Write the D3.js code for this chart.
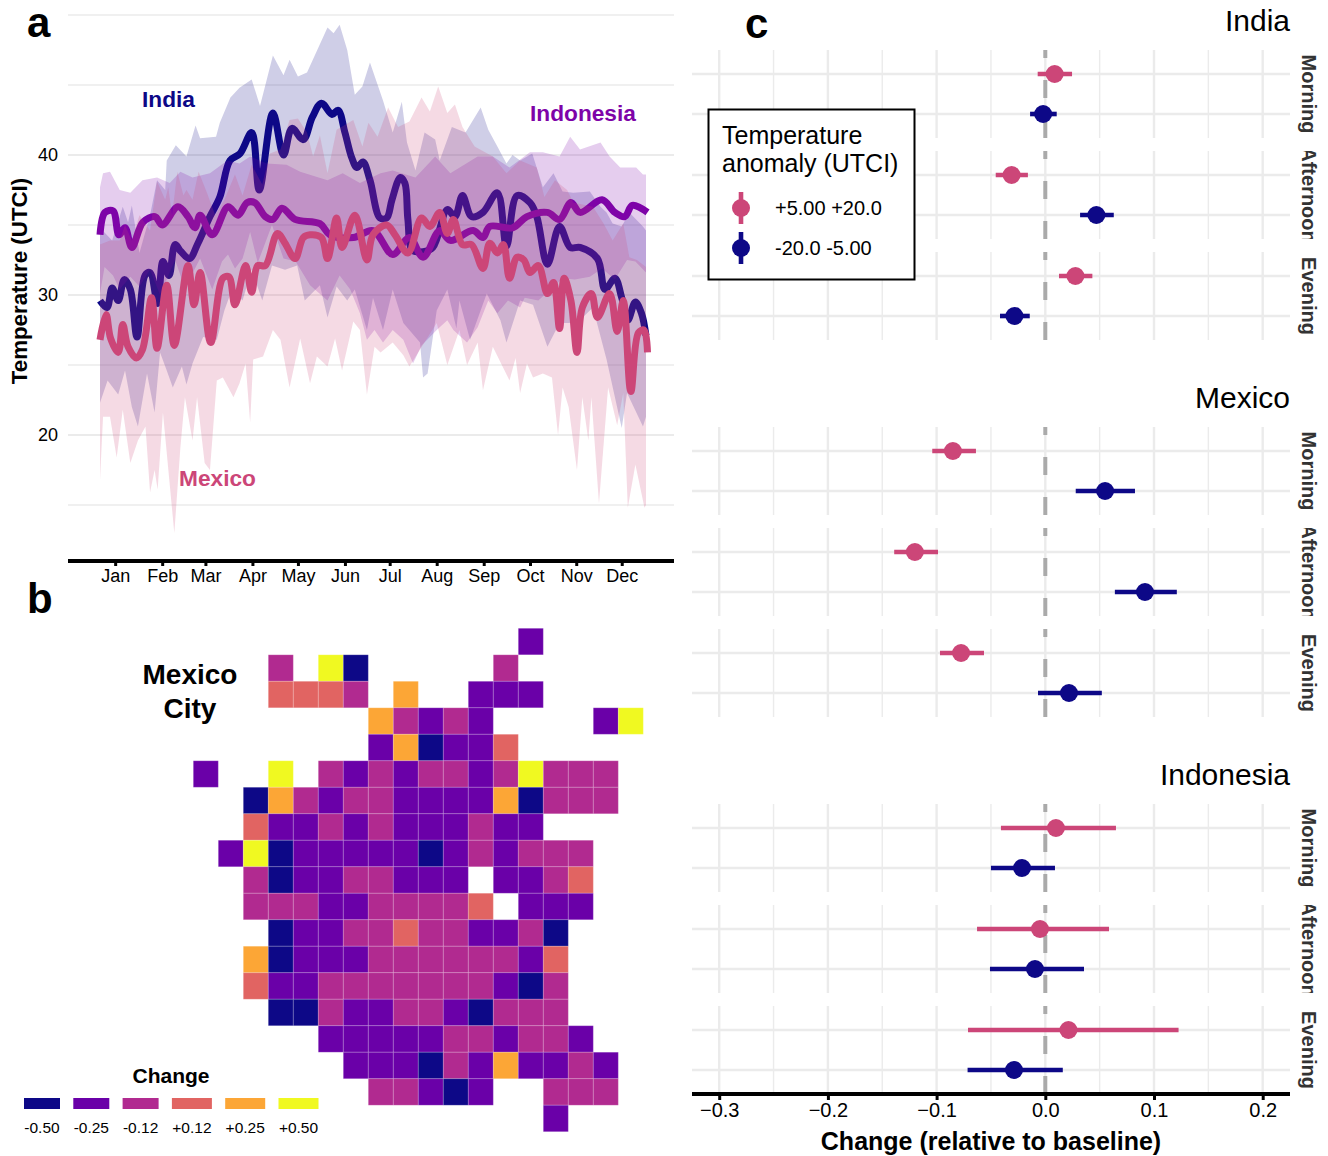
<!DOCTYPE html>
<html>
<head>
<meta charset="utf-8">
<script src="https://cdn.jsdelivr.net/npm/d3@7"></script>
<style>
    body { margin: 0; background: #fff; }
    svg { display: block; font-family: "Liberation Sans", Arial, sans-serif; }
</style>
</head>
<body>
<svg id="chart" width="1328" height="1156"></svg>
<script>
////////////
// DATA
////////////

///// Panel a, each list is [day of year, UTCI]
const monthLabels = ["Jan", "Feb", "Mar", "Apr", "May", "Jun", "Jul", "Aug", "Sep", "Oct", "Nov", "Dec"];
const monthTicks = [11, 42, 70.5, 101.5, 131.5, 162.5, 192, 223, 254, 284.5, 315, 345];
const tempTicks = [20, 30, 40];
const tempMinorTicks = [15, 25, 35, 45, 50];

const indiaMean = [[1,29.6],[5.6,29.1],[9,30.5],[13,29.6],[17,31.1],[21,30.4],[25.4,27],[30.7,31.4],[34,31.6],[39,29.4],[42.5,32.4],[46.5,31.4],[50.5,33.6],[54.4,33.1],[60,32.6],[65.6,33.7],[73.5,35.6],[80,37],[86.7,39.6],[93.3,40.1],[101,41.6],[106,37.5],[115,43],[122,40],[127.6,41.9],[135,41.1],[141,42.7],[147,43.7],[154,42.9],[158,43.2],[162.5,41.6],[167,39.8],[170.4,39.1],[174.4,39.5],[179,38.2],[185.6,35.5],[190,35.5],[193.5,36.8],[199,38.4],[202,38],[204,35.4],[207,33.2],[214,33.1],[220.5,33.4],[230,36.1],[235,35.6],[240,37.1],[246,35.6],[253.5,35.9],[263,37.3],[269,33.5],[276,37.1],[284.5,36.6],[289,35.6],[296,32.2],[304,34.9],[311,33.4],[317.5,33.4],[329,32.6],[334,30.4],[340.5,31.2],[345,29.8],[349,28.2],[354,29.5],[358,28.7],[361,27.1]];
const indiaUpper = [[1,34.8],[9,33.9],[16,36.3],[19.5,35.2],[22,36.4],[27,33],[34,35.7],[38.6,38.2],[44,37.5],[45,39.6],[51,40.7],[58,39.9],[64,42.1],[67,41.2],[77.5,41.3],[80,42.3],[87,44.1],[93,44.8],[101,45.4],[106.5,43.5],[115,47.1],[122,45.7],[126,46.8],[131.5,45.6],[137.5,45.9],[151,49.1],[155,48.7],[159,49.3],[164,47.5],[169,44.3],[174,44.9],[179,46.6],[187.6,43.9],[194,41.6],[200,43.8],[203.4,40.9],[209,38.9],[215,41.6],[222,41.1],[225,39.6],[233,42],[242,41.6],[252,43.4],[257,41.8],[263,40.6],[269,39.4],[273,40],[278,39.6],[286,40.1],[293,37.7],[300,38.7],[306,37.4],[313,37.3],[324,37.4],[331,36.3],[335,35.9],[339,35.1],[345,34.9],[350,35.9],[359,34.9],[361,34.6]];
const indiaLower = [[1,22.3],[6,23.9],[13,22.9],[17.5,24.6],[22,22],[26,20.6],[32,24.4],[37,21.6],[40.6,25.9],[45,24.6],[49,23.4],[55,24.9],[58,23.6],[62,25.1],[69,27],[78,26.8],[83,28.9],[88,30.4],[95,29.6],[101,31.8],[108,29.6],[114.4,32.1],[123,31.8],[131,32.1],[136,29.6],[146,30.7],[151,28.4],[157,30.6],[164,29.6],[169,30.4],[177,27.5],[181,29.8],[187.6,27.5],[194,30.4],[201,28],[212,26.6],[214,24.1],[217,24.4],[223,28.9],[230,30.4],[236,27.6],[238,29.6],[245,26.8],[256,30.1],[265,28.2],[269,26.6],[278,29.6],[286.5,29.3],[296,26.3],[304,28],[315.5,28],[326,29.1],[335,25.4],[345,20.5],[348.5,23],[359,20.6],[361,21.3]];

const indonesiaMean = [[1,34.3],[4.3,35.9],[9.6,36],[13.5,34.3],[17.5,34.8],[22,33.4],[29.3,35.2],[37.3,35.6],[42,35],[52.4,36.3],[59,35.6],[63.6,34.8],[67,35.7],[75,34.3],[85.4,36.3],[92,35.7],[98,36.6],[103,36.6],[110,35.6],[115,35.4],[121,36.2],[129.6,35.4],[146,35.1],[152.6,34.3],[168,34.1],[181,34.6],[194,32.9],[205,34.1],[214,32.7],[225,34.6],[232,33.9],[247,34.6],[253.5,34.1],[258,34.9],[273,34.8],[282.5,35.6],[296,35.9],[304,35.4],[311.5,36.6],[317.5,35.9],[332,36.8],[340.5,35.9],[347,35.6],[352,36.4],[362,35.9]];
const indonesiaUpper = [[1,37.7],[3,38.7],[7.6,38.8],[14,37.5],[21,37.3],[29,38.2],[38.6,38.4],[47,38],[54,38.8],[62,38.4],[73.5,38.7],[85,39.6],[93,39.4],[100,39.9],[111,39.4],[124,39.3],[133,38.8],[151,38.2],[161,38.7],[172.4,38],[186,38.7],[194,38.9],[209,38.4],[222,39.9],[232,38.7],[250,39.9],[260,39.9],[271,39.1],[284.5,40.2],[293,40.2],[304,39.9],[311,41.3],[317.5,40.4],[331,40.9],[337,39.9],[344,39.1],[354.5,39.1],[359,38.6],[361,38.6]];
const indonesiaLower = [[1,30.1],[4,32],[9.6,31.4],[14,30.4],[21,31.3],[27,30.6],[34,31.8],[40.6,30],[50.5,32.5],[57,30.5],[67,32.6],[75,30.4],[81.4,32.4],[85.4,32.9],[90,31.9],[95,32.6],[100,34.5],[105,32.3],[114.4,35],[122,32.6],[130,32.4],[139.5,30.7],[151,29.6],[159,31.4],[166,30.4],[172.4,28.7],[177,26.8],[182,27.5],[187.6,26.6],[194,27.5],[201,26.8],[207.4,25.1],[213,26.4],[223,27.5],[230,28.2],[234,27.5],[243,26.6],[250,27.7],[257,29.6],[263,28.7],[270,29.6],[278,29.1],[281,29.8],[290,29.6],[298,30.4],[306,31.2],[314,31.1],[324,31.3],[332,31.9],[340.5,31.1],[348.5,32.5],[354,32.4],[361,31.6]];

const mexicoMean = [[1,26.8],[5,28.6],[8,26.9],[13,25.9],[16,27.9],[19.5,26.3],[25,25.5],[29,26.1],[35,29.8],[38.6,26.2],[45,30.7],[50,26.4],[59,32.1],[63,29.3],[67,31.6],[74,26.6],[82,31.2],[86,31.3],[90,29.3],[97,32.1],[101,30.2],[105,32.1],[110,32.1],[118,34.4],[123,33.7],[129.6,32.6],[135,34.1],[139.5,34.3],[147,34.1],[151,32.6],[157,35.5],[160.6,33.4],[169,35.7],[177,32.5],[181,34.3],[190,35],[195.5,34.3],[204,33],[213,35.5],[218.5,34.9],[225,35.9],[230,34.4],[234,35.4],[240,33.6],[246,33.6],[253.5,31.9],[258,33.7],[263,33],[267,33.6],[271,31.2],[276,32.7],[280.5,32.5],[284.5,31.6],[290,32.1],[296,30.1],[300,30.9],[304,27.6],[307,31.2],[311.5,29.6],[315.5,25.9],[319,29.1],[325,30.1],[329,28.4],[337,30.1],[342,27.4],[346,29.6],[351,23.1],[356,27.3],[359.7,27.5],[362,25.9]];
const mexicoUpper = [[1,33.6],[7.6,33.9],[14,33.9],[17.5,35],[22,33.9],[27,35.7],[34,34.6],[38.6,38.1],[44,36.8],[46,37.7],[48.5,35.7],[52,38.8],[56,37.1],[58,37.5],[62,36.8],[66,38.8],[71.5,37.3],[77,35.7],[83,36.8],[90,38.6],[95,37.1],[101,39.3],[108,37.9],[113,40.1],[120,40.4],[126,42.5],[131.5,42.6],[137.5,41.6],[141.5,39.9],[146,41.4],[151,38.7],[157,41.8],[168,42.5],[174,40.6],[178,42.3],[184,41.3],[191,43.4],[197.5,42],[205,42.4],[213,44.1],[218.5,43.1],[224,44.9],[230,43],[235,43.6],[240,42],[248,40.6],[260,39.9],[269,38.7],[278,39.6],[289,39.1],[294,37],[301,38.2],[309,37.5],[313,36.6],[326,36.3],[333,35.1],[339,33.9],[346,35.1],[350,32.7],[355,32.5],[361,32]];
const mexicoLower = [[1,16.8],[3,21.3],[7.6,21.3],[12,18.4],[16,21.8],[21,18],[26,19.6],[31,20.6],[34,15.9],[37,17.5],[39,16.1],[42.5,21.6],[50,13],[54,19.1],[57,22.7],[62,19.6],[65,22.7],[70,18],[73.5,17.5],[78,23.9],[82,24.1],[89,22.7],[93,23.7],[97,25.1],[100,20.9],[102,25.4],[108.5,25.6],[115,27.5],[120,26.8],[126,23.4],[133,26.9],[139.5,23.7],[144,25.6],[151,24.9],[156,26.9],[160.6,24.6],[168,28.1],[172.4,27.5],[177,22.9],[182,26.3],[186,25.9],[194,26.6],[201,25.7],[205,24.9],[212,26.1],[223,28],[230,25],[238,27.5],[243,25],[250,26.6],[253.5,23.2],[260,26.3],[271,23.9],[275,25.5],[278,23],[282.5,25.1],[286.5,24.1],[293,24.4],[299,24.1],[303,20],[306,23.4],[310,22],[315.5,17.5],[319,22.7],[323,19.6],[325,22.7],[330,15.1],[336,23.4],[342,20.7],[346,23],[349,14.8],[354,17.9],[360,14.8],[361,15]];

///// Panel b, one character per cell: n -0.50, p -0.25, m -0.12, o +0.12, a +0.25, y +0.50
const changeCodes = ["n", "p", "m", "o", "a", "y"];
const changeLabels = ["-0.50", "-0.25", "-0.12", "+0.12", "+0.25", "+0.50"];
const changeColors = ["#0d0887", "#6a00a8", "#b12a90", "#e16462", "#fca636", "#f0f921"];
const cityGrid = [
    ".............p....",
    "...m.yn.....m.....",
    "...ooom.a..ppp....",
    ".......ampmp....py",
    ".......pânppo.....".replace("â", "a"),
    "p..y.mpmpmmpmymmm.",
    "..nampmmppppanmmm.",
    "..oppmpmpppmpp....",
    ".pynpppppnpmpmmm..",
    "..mnppmmppp.ppmo..",
    "..mmmppmmmmo.ppp..",
    "...nppmmommppmn...",
    "..anpppmmmmmmpo...",
    "..oppmmmmmmmpnm...",
    "...nnmppmmpnmmm...",
    ".....pppppmmpmmp..",
    "......pppnmpappmp.",
    ".......mmpnp..mmm.",
    "..............p..."
];

///// Panel c, nine rows in the order of countryNames x timeLabels
const countryNames = ["India", "Mexico", "Indonesia"];
const timeLabels = ["Morning", "Afternoon", "Evening"];
const valueTicks = [-0.3, -0.2, -0.1, 0, 0.1, 0.2];
const valueMinorTicks = [-0.25, -0.15, -0.05, 0.05, 0.15];
const anomalyTitle = ["Temperature", "anomaly (UTCI)"];
const anomalyLabels = ["+5.00 +20.0", "-20.0 -5.00"];
const hotEst = [0.0086, -0.031, 0.0277, -0.085, -0.12, -0.0775, 0.0098, -0.0049, 0.0213];
const hotLow = [-0.007, -0.0456, 0.0126, -0.104, -0.139, -0.0969, -0.0408, -0.0628, -0.0711];
const hotHigh = [0.0246, -0.016, 0.0433, -0.0638, -0.0987, -0.0564, 0.065, 0.0586, 0.1226];
const coldEst = [-0.002, 0.047, -0.0284, 0.055, 0.0917, 0.0218, -0.0214, -0.0095, -0.0288];
const coldLow = [-0.014, 0.032, -0.0417, 0.028, 0.064, -0.0067, -0.05, -0.0509, -0.0715];
const coldHigh = [0.0105, 0.063, -0.0143, 0.0825, 0.121, 0.052, 0.0089, 0.0356, 0.0161];

////////////
// SETTINGS
////////////
const navy = "#0d0887", violet = "#7e03a8", rose = "#cc4678";
const gridColor = "#ebebeb";
const svg = d3.select("#chart");

function addText(parent, x, y, str, size, opts = {}) {
    return parent.append("text")
        .attr("x", x).attr("y", y)
        .attr("font-size", size)
        .attr("font-weight", opts.weight || "normal")
        .attr("fill", opts.fill || "#000")
        .attr("text-anchor", opts.anchor || "start")
        .text(str);
}

////////////
// PANEL A
////////////
const xDay = d3.scaleLinear().domain([1, 361]).range([100, 646]);
const yTemp = d3.scaleLinear().domain([30, 40]).range([295, 155]);

const panelA = svg.append("g");

[...tempMinorTicks, ...tempTicks].forEach(t => {
    panelA.append("line")
        .attr("x1", 68).attr("x2", 674)
        .attr("y1", yTemp(t)).attr("y2", yTemp(t))
        .attr("stroke", gridColor)
        .attr("stroke-width", tempTicks.includes(t) ? 2.2 : 1.3);
});

const meanLine = d3.line()
    .x(d => xDay(d[0]))
    .y(d => yTemp(d[1]))
    .curve(d3.curveCatmullRom.alpha(0.5));
const ribbonLine = d3.line()
    .x(d => xDay(d[0]))
    .y(d => yTemp(d[1]));

// ribbon then line per country, so later ribbons tint the earlier lines
function drawSeries(upper, lower, mean, color) {
    panelA.append("path")
        .attr("d", ribbonLine([...upper, ...lower.slice().reverse()]) + "Z")
        .attr("fill", color)
        .attr("fill-opacity", 0.2);
    panelA.append("path")
        .attr("d", meanLine(mean))
        .attr("fill", "none")
        .attr("stroke", color)
        .attr("stroke-width", 7)
        .attr("stroke-linejoin", "round");
}
drawSeries(indiaUpper, indiaLower, indiaMean, navy);
drawSeries(indonesiaUpper, indonesiaLower, indonesiaMean, violet);
drawSeries(mexicoUpper, mexicoLower, mexicoMean, rose);

const xAxisA = panelA.append("g")
    .attr("transform", "translate(0,561)")
    .call(d3.axisBottom(xDay)
        .tickValues(monthTicks)
        .tickFormat((d, i) => monthLabels[i])
        .tickSize(5)
        .tickPadding(3));
xAxisA.select(".domain").remove();
xAxisA.selectAll("line").attr("stroke", "#000").attr("stroke-width", 3);
xAxisA.selectAll("text").attr("font-size", 18).attr("font-family", "inherit").attr("fill", "#000");
panelA.append("line")
    .attr("x1", 68).attr("x2", 674).attr("y1", 561).attr("y2", 561)
    .attr("stroke", "#000").attr("stroke-width", 4);

const yAxisA = panelA.append("g")
    .attr("transform", "translate(64,0)")
    .call(d3.axisLeft(yTemp).tickValues(tempTicks).tickSize(0).tickPadding(6));
yAxisA.select(".domain").remove();
yAxisA.selectAll("text").attr("font-size", 18).attr("font-family", "inherit").attr("fill", "#000");

addText(panelA, 0, 0, "Temperature (UTCI)", 22.3, { weight: "bold", anchor: "middle" })
    .attr("transform", "translate(27,281) rotate(-90)");
addText(panelA, 142, 107, "India", 22.7, { weight: "bold", fill: navy });
addText(panelA, 530, 121, "Indonesia", 22.7, { weight: "bold", fill: violet });
addText(panelA, 179, 486, "Mexico", 22.7, { weight: "bold", fill: rose });

////////////
// PANEL B
////////////
const panelB = svg.append("g");
const colScale = d3.scaleBand().domain(d3.range(18)).range([193.3, 643.3]);
const rowScale = d3.scaleBand().domain(d3.range(19)).range([628.3, 1131.7]);
const changeColor = d3.scaleOrdinal().domain(changeCodes).range(changeColors);

const cells = [];
cityGrid.forEach((row, r) => {
    row.split("").forEach((code, c) => {
        if (code !== ".") cells.push({ r, c, code });
    });
});

panelB.selectAll("rect.cell")
    .data(cells)
    .join("rect")
    .attr("class", "cell")
    .attr("x", d => colScale(d.c))
    .attr("y", d => rowScale(d.r))
    .attr("width", colScale.bandwidth())
    .attr("height", rowScale.bandwidth())
    .attr("fill", d => changeColor(d.code))
    .attr("stroke", "#fff")
    .attr("stroke-opacity", 0.18)
    .attr("stroke-width", 1);

addText(panelB, 190, 684, "Mexico", 28, { weight: "bold", anchor: "middle" });
addText(panelB, 190, 718, "City", 28, { weight: "bold", anchor: "middle" });

addText(panelB, 171, 1083, "Change", 21, { weight: "bold", anchor: "middle" });
let legendX = 24;
changeLabels.forEach((label, i) => {
    const w = label[0] === "-" ? 36 : 40;
    panelB.append("rect")
        .attr("x", legendX).attr("y", 1098)
        .attr("width", w).attr("height", 11)
        .attr("fill", changeColors[i]);
    addText(panelB, legendX + w / 2, 1133, label, 15.5, { anchor: "middle" });
    legendX += w + 13.3;
});

////////////
// PANEL C
////////////
const panelC = svg.append("g");
const xValue = d3.scaleLinear().domain([0, 0.2]).range([1045.3, 1262.7]);
const panelHeight = 88;
const rowOffset = 101;
const countryOffset = 377;
const defs = svg.append("defs");

countryNames.forEach((country, ci) => {
    const top0 = 50 + ci * countryOffset;
    addText(panelC, 1290, top0 - 19, country, 30, { anchor: "end" });

    timeLabels.forEach((time, ti) => {
        const top = top0 + ti * rowOffset;
        const idx = ci * 3 + ti;
        const yRow = d3.scalePoint().domain(["hot", "cold"]).range([top + 24, top + 64]);
        const g = panelC.append("g");

        valueMinorTicks.concat(valueTicks).forEach(v => {
            g.append("line")
                .attr("x1", xValue(v)).attr("x2", xValue(v))
                .attr("y1", top).attr("y2", top + panelHeight)
                .attr("stroke", gridColor)
                .attr("stroke-width", valueTicks.includes(v) ? 2.4 : 1.4);
        });
        yRow.domain().forEach(k => {
            g.append("line")
                .attr("x1", 692).attr("x2", 1290)
                .attr("y1", yRow(k)).attr("y2", yRow(k))
                .attr("stroke", gridColor)
                .attr("stroke-width", 2.4);
        });

        // dash pattern runs upward from the panel bottom
        g.append("line")
            .attr("x1", xValue(0)).attr("x2", xValue(0))
            .attr("y1", top + panelHeight).attr("y2", top)
            .attr("stroke", "#aaaaaa")
            .attr("stroke-width", 4)
            .attr("stroke-dasharray", "18,22");

        const rows = [
            { key: "hot", color: rose, est: hotEst[idx], low: hotLow[idx], high: hotHigh[idx] },
            { key: "cold", color: navy, est: coldEst[idx], low: coldLow[idx], high: coldHigh[idx] }
        ];
        rows.forEach(d => {
            g.append("line")
                .attr("x1", xValue(d.low)).attr("x2", xValue(d.high))
                .attr("y1", yRow(d.key)).attr("y2", yRow(d.key))
                .attr("stroke", d.color)
                .attr("stroke-width", 4.6);
            g.append("circle")
                .attr("cx", xValue(d.est))
                .attr("cy", yRow(d.key))
                .attr("r", 9)
                .attr("fill", d.color);
        });

        // strip label, long words get cut at the panel edge
        const clipId = "strip-" + ci + "-" + ti;
        defs.append("clipPath").attr("id", clipId)
            .append("rect")
            .attr("x", 1292).attr("y", top)
            .attr("width", 36).attr("height", panelHeight);
        const strip = g.append("g").attr("clip-path", "url(#" + clipId + ")");
        addText(strip, 0, 0, time, 20, { weight: "bold", fill: "#333", anchor: "middle" })
            .attr("transform", "translate(1302," + (top + panelHeight / 2) + ") rotate(90)");
    });
});

const xAxisC = panelC.append("g")
    .attr("transform", "translate(0,1094)")
    .call(d3.axisBottom(xValue)
        .tickValues(valueTicks)
        .tickFormat(d3.format(".1f"))
        .tickSize(6)
        .tickPadding(3));
xAxisC.select(".domain").remove();
xAxisC.selectAll("line").attr("stroke", "#000").attr("stroke-width", 3);
xAxisC.selectAll("text").attr("font-size", 20).attr("font-family", "inherit").attr("fill", "#000");
panelC.append("line")
    .attr("x1", 692).attr("x2", 1290).attr("y1", 1094).attr("y2", 1094)
    .attr("stroke", "#000").attr("stroke-width", 4);
addText(panelC, 991, 1150, "Change (relative to baseline)", 25, { weight: "bold", anchor: "middle" });

// legend box
panelC.append("rect")
    .attr("x", 708.5).attr("y", 109.5)
    .attr("width", 206).attr("height", 170)
    .attr("fill", "#fff")
    .attr("stroke", "#000")
    .attr("stroke-width", 2);
anomalyTitle.forEach((t, i) => addText(panelC, 722, 144 + i * 28, t, 25));
[rose, navy].forEach((color, i) => {
    const yKey = 208 + i * 40;
    panelC.append("line")
        .attr("x1", 741).attr("x2", 741)
        .attr("y1", yKey - 16).attr("y2", yKey + 16)
        .attr("stroke", color).attr("stroke-width", 4.6);
    panelC.append("circle")
        .attr("cx", 741).attr("cy", yKey).attr("r", 9).attr("fill", color);
    addText(panelC, 775, yKey + 7, anomalyLabels[i], 20);
});

////////////
// PANEL LETTERS
////////////
addText(svg, 27, 37, "a", 42, { weight: "bold" });
addText(svg, 27, 613, "b", 42, { weight: "bold" });
addText(svg, 745, 38, "c", 42, { weight: "bold" });
</script>
</body>
</html>
